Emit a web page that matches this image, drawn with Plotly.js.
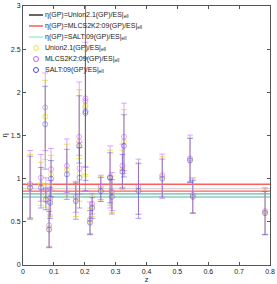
<!DOCTYPE html>
<html>
<head>
<meta charset="utf-8">
<script src="https://cdn.plot.ly/plotly-3.0.1.min.js"></script>
<style>html,body{margin:0;padding:0;background:#fff}#chart{width:277px;height:284px}</style>
</head>
<body>
<div id="chart"></div>
<script>
// ---- data ----
var z = [0.023, 0.058, 0.072, 0.074, 0.0845, 0.0881, 0.0909, 0.142, 0.171, 0.182, 0.183, 0.202, 0.2025,
         0.217, 0.224, 0.252, 0.282, 0.288, 0.322, 0.327, 0.374, 0.451, 0.541, 0.550, 0.784];

var etaUnion     = [0.91, 0.94, 1.72, 0.80, 0.43, 0.75, 1.05, 1.10, 0.76, 1.43, 1.06, 1.83, 1.85,
                    0.51, 0.68, 0.88, 1.01, 0.82, 1.11, 1.43, 0.88, 1.02, 1.22, 0.80, 0.61];
var unionPlus    = [0.37, 0.25, 0.42, 0.13, 0.22, 0.19, 0.22, 0.30, 0.20, 0.60, 0.32, 0.66, 1.30,
                    0.15, 0.12, 0.14, 0.32, 0.21, 0.22, 0.37, 0.29, 0.235, 0.26, 0.195, 0.26];
var unionMinus   = [0.37, 0.25, 0.50, 0.13, 0.22, 0.19, 0.22, 0.30, 0.20, 0.20, 0.32, 0.80, 0.80,
                    0.15, 0.12, 0.14, 0.32, 0.21, 0.22, 0.37, 0.29, 0.235, 0.26, 0.195, 0.26];

var etaMLCS      = [0.937, 1.01, 1.825, 0.87, 0.46, 0.78, 1.11, 1.15, 0.79, 1.485, 1.12, 1.90, 1.93,
                    0.53, 0.71, 0.91, 1.02, 0.85, 1.15, 1.485, 0.906, 1.04, 1.235, 0.81, 0.625];
var mlcsPlus     = [0.39, 0.27, 0.40, 0.14, 0.25, 0.20, 0.24, 0.31, 0.18, 0.635, 0.30, 0.68, 1.30,
                    0.20, 0.12, 0.13, 0.36, 0.22, 0.25, 0.39, 0.32, 0.245, 0.27, 0.20, 0.27];
var mlcsMinus    = [0.39, 0.27, 0.50, 0.14, 0.25, 0.20, 0.24, 0.31, 0.18, 0.215, 0.30, 0.76, 0.80,
                    0.17, 0.12, 0.15, 0.36, 0.22, 0.25, 0.39, 0.32, 0.245, 0.27, 0.21, 0.27];

var etaSALT      = [0.895, 0.895, 1.63, 0.76, 0.41, 0.72, 1.00, 1.05, 0.74, 1.38, 1.01, 1.76, 1.78,
                    0.49, 0.66, 0.855, 1.01, 0.79, 1.08, 1.38, 0.86, 1.00, 1.21, 0.79, 0.60];
var saltPlus     = [0.365, 0.235, 0.44, 0.12, 0.21, 0.18, 0.21, 0.29, 0.21, 0.58, 0.35, 0.64, 1.30,
                    0.14, 0.12, 0.16, 0.29, 0.20, 0.20, 0.36, 0.32, 0.227, 0.255, 0.19, 0.25];
var saltMinus    = [0.365, 0.235, 0.52, 0.12, 0.21, 0.18, 0.21, 0.29, 0.21, 0.20, 0.35, 0.90, 0.80,
                    0.14, 0.12, 0.12, 0.29, 0.20, 0.20, 0.36, 0.32, 0.227, 0.255, 0.19, 0.25];

// horizontal reference levels
var unionLevels = [0.885, 0.824];
var mlcsLevels  = [0.935, 0.856];
var saltLevels  = [0.824, 0.787];

var xRange = [0, 0.8];
var yRange = [0, 3];
var xTicks = [0, 0.1, 0.2, 0.3, 0.4, 0.5, 0.6, 0.7, 0.8];
var xTickLabels = ["0", "0.1", "0.2", "0.3", "0.4", "0.5", "0.6", "0.7", "0.8"];
var yTicks = [0, 0.5, 1, 1.5, 2, 2.5, 3];
var yTickLabels = ["0", "0.5", "1", "1.5", "2", "2.5", "3"];

var legendLabels = [
  "η(GP)=Union2.1(GP)/ES|<sub>ell</sub>",
  "η(GP)=MLCS2K2:09(GP)/ES|<sub>ell</sub>",
  "η(GP)=SALT:09(GP)/ES|<sub>ell</sub>",
  "Union2.1(GP)/ES|<sub>ell</sub>",
  "MLCS2K2:09(GP)/ES|<sub>ell</sub>",
  "SALT:09(GP)/ES|<sub>ell</sub>"
];

// ---- styling ----
var FONT = "Liberation Sans, Arial, Helvetica, sans-serif";
var W = 277, H = 284;
var M = {l: 23, r: 7, t: 6, b: 19};
var cUnion = "rgba(240,225,60,0.85)";
var cMLCS  = "rgba(195,100,255,0.55)";
var cSALT  = "rgba(60,60,245,0.45)";
var lineBlack = "rgba(0,0,0,0.16)";
var lineRed   = "rgba(255,40,40,0.75)";
var lineCyan  = "rgba(40,170,140,0.55)";

var traces = [];
function hlines(levels, color) {
  levels.forEach(function (v) {
    traces.push({
      x: xRange, y: [v, v], mode: "lines", type: "scatter",
      line: {color: color, width: 1.4}, hoverinfo: "skip", showlegend: false
    });
  });
}
hlines(unionLevels, lineBlack);
hlines(mlcsLevels, lineRed);
hlines(saltLevels, lineCyan);

function pts(y, plus, minus, color) {
  traces.push({
    x: z, y: y, type: "scatter", mode: "markers", showlegend: false,
    marker: {symbol: "circle-open", size: 5, color: color, line: {width: 1, color: color}},
    error_y: {type: "data", symmetric: false, array: plus, arrayminus: minus,
              color: color, thickness: 1, width: 3}
  });
}
pts(etaUnion, unionPlus, unionMinus, cUnion);
pts(etaMLCS, mlcsPlus, mlcsMinus, cMLCS);
pts(etaSALT, saltPlus, saltMinus, cSALT);

// ---- hand-placed legend (compact rows like the reference) ----
var plotW = W - M.l - M.r, plotH = H - M.t - M.b;
function px(x) { return (x - M.l) / plotW; }
function py(y) { return (H - M.b - y) / plotH; }
var rows = [15, 26, 37, 48, 59, 70];
var legLineColors = ["#000000", "#ff3030", "#8eead0"];
var legMarkColors = ["#f2e24a", "#c060f0", "#4a4ae0"];
var shapes = [], annotations = [];
rows.forEach(function (r, i) {
  if (i < 3) {
    shapes.push({type: "line", xref: "paper", yref: "paper",
      x0: px(29), x1: px(43), y0: py(r), y1: py(r),
      line: {color: legLineColors[i], width: 1.2}});
  } else {
    shapes.push({type: "circle", xref: "paper", yref: "paper",
      xsizemode: "pixel", ysizemode: "pixel", xanchor: px(36), yanchor: py(r),
      x0: -2.5, x1: 2.5, y0: -2.5, y1: 2.5,
      line: {color: legMarkColors[i - 3], width: 1}});
  }
  annotations.push({xref: "paper", yref: "paper", x: px(44), y: py(r),
    xanchor: "left", yanchor: "middle", showarrow: false, text: legendLabels[i],
    font: {family: FONT, size: 7, color: "#222"}, borderpad: 0});
});

var axisCommon = {
  showgrid: false, zeroline: false, showline: true, mirror: "ticks",
  linecolor: "#555", linewidth: 1, ticks: "inside", ticklen: 3, tickwidth: 1,
  tickcolor: "#555", tickfont: {family: FONT, size: 7, color: "#222"}
};

var layout = {
  width: W, height: H, margin: M, paper_bgcolor: "#fff", plot_bgcolor: "#fff",
  showlegend: false,
  font: {family: FONT, size: 7, color: "#222"},
  xaxis: Object.assign({}, axisCommon, {range: xRange, tickmode: "array",
    tickvals: xTicks, ticktext: xTickLabels,
    title: {text: "z", font: {family: FONT, size: 7.5, color: "#222"}, standoff: 2}}),
  yaxis: Object.assign({}, axisCommon, {range: yRange, tickmode: "array",
    tickvals: yTicks, ticktext: yTickLabels,
    title: {text: "η", font: {family: FONT, size: 7.5, color: "#222"}, standoff: 2}}),
  shapes: shapes, annotations: annotations
};

Plotly.newPlot("chart", traces, layout, {staticPlot: true, displayModeBar: false});
</script>
</body>
</html>
